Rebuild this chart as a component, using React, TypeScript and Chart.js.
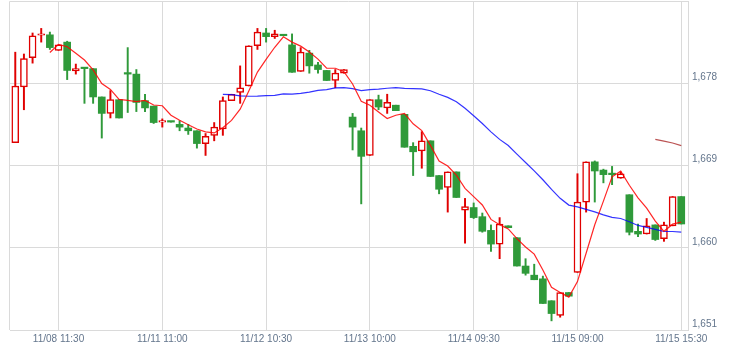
import React, { useEffect, useRef } from 'react';
import { Chart, registerables } from 'chart.js';

Chart.register(...registerables);

// 30-minute candles, 11/08 09:00 .. 11/15 15:30 (13 bars per day)
const xTickIndex = [5, 17, 29, 41, 53, 65, 77];
const xTickLabels = ['11/08 11:30', '11/11 11:00', '11/12 10:30', '11/13 10:00', '11/14 09:30', '11/15 09:00', '11/15 15:30'];
const yTicks = [1651, 1660, 1669, 1678];

const opens = [
  1671.5, 1677.6, 1680.8, 1683.25, 1683.3, 1681.6, 1682.5, 1679.35, 1679.65, 1679.6,
  1676.5, 1674.7, 1676.2, 1679.05, 1679.0, 1676.1, 1675.5, 1673.75, 1673.8, 1673.5,
  1673.1, 1672.8, 1671.4, 1672.3, 1673.0, 1676.1, 1677.0, 1677.7, 1682.1, 1683.5,
  1683.1, 1683.25, 1682.2, 1679.3, 1681.3, 1680.0, 1679.4, 1678.3, 1679.1, 1674.3,
  1672.8, 1670.1, 1676.2, 1675.3, 1675.6, 1674.6, 1671.1, 1670.6, 1671.7, 1667.9,
  1666.6, 1668.3, 1664.1, 1664.4, 1663.4, 1661.9, 1660.4, 1662.4, 1661.1, 1658.0,
  1657.0, 1656.6, 1654.2, 1652.6, 1655.1, 1657.3, 1665.0, 1669.4, 1668.5, 1668.1,
  1667.6, 1665.8, 1661.8, 1661.5, 1662.5, 1661.0, 1662.4, 1665.6,
];
const highs = [
  1681.4, 1681.2, 1683.5, 1684.0, 1683.6, 1682.2, 1682.6, 1680.1, 1679.65, 1679.6,
  1676.5, 1677.2, 1676.2, 1681.9, 1679.5, 1676.8, 1675.5, 1674.1, 1673.8, 1673.9,
  1673.5, 1672.8, 1672.5, 1673.7, 1676.5, 1676.8, 1679.9, 1682.1, 1684.0, 1684.0,
  1683.8, 1683.25, 1683.4, 1681.9, 1681.6, 1680.3, 1679.4, 1679.5, 1679.5, 1674.7,
  1673.1, 1676.2, 1676.7, 1676.8, 1675.6, 1674.6, 1671.5, 1672.7, 1671.7, 1667.9,
  1668.3, 1668.3, 1665.4, 1664.9, 1663.8, 1662.5, 1663.3, 1662.4, 1661.1, 1658.8,
  1658.2, 1656.9, 1654.2, 1655.1, 1655.1, 1668.1, 1669.4, 1669.5, 1668.6, 1668.9,
  1668.3, 1665.8, 1662.6, 1663.2, 1662.5, 1662.8, 1665.6, 1665.6,
];
const lows = [
  1671.5, 1675.1, 1680.2, 1682.5, 1681.7, 1681.6, 1678.4, 1679.0, 1675.8, 1675.8,
  1672.0, 1674.2, 1674.2, 1674.8, 1674.9, 1674.9, 1673.6, 1673.2, 1673.75, 1672.8,
  1672.4, 1670.9, 1670.1, 1671.7, 1672.3, 1676.1, 1675.8, 1677.7, 1681.7, 1682.5,
  1682.9, 1683.2, 1679.2, 1679.3, 1679.1, 1679.1, 1678.3, 1677.5, 1679.1, 1670.7,
  1664.8, 1670.1, 1675.1, 1674.7, 1675.0, 1671.0, 1667.9, 1668.7, 1667.8, 1665.9,
  1663.9, 1665.5, 1660.5, 1663.2, 1661.7, 1659.6, 1658.8, 1662.2, 1658.0, 1657.0,
  1656.5, 1653.9, 1652.0, 1652.4, 1654.7, 1657.3, 1663.9, 1665.0, 1667.1, 1666.9,
  1667.6, 1661.4, 1661.2, 1661.5, 1660.8, 1660.7, 1662.4, 1662.6,
];
const closes = [
  1677.7, 1680.7, 1683.2, 1683.3, 1681.9, 1682.2, 1679.4, 1679.6, 1679.6, 1676.5,
  1674.7, 1676.2, 1674.2, 1679.0, 1675.9, 1675.3, 1673.7, 1673.8, 1673.75, 1673.2,
  1672.8, 1671.4, 1672.2, 1673.2, 1676.1, 1676.8, 1677.5, 1682.1, 1683.6, 1683.1,
  1683.4, 1683.2, 1679.2, 1681.4, 1679.9, 1679.5, 1678.3, 1679.1, 1679.5, 1673.2,
  1670.0, 1676.2, 1675.4, 1675.9, 1675.0, 1671.0, 1670.5, 1671.7, 1667.8, 1666.4,
  1668.3, 1665.5, 1664.5, 1663.3, 1661.8, 1660.4, 1662.6, 1662.2, 1658.0, 1657.2,
  1656.5, 1653.9, 1652.8, 1655.1, 1654.7, 1665.0, 1669.4, 1668.4, 1668.0, 1668.0,
  1668.1, 1661.7, 1661.5, 1662.4, 1660.9, 1662.5, 1665.6, 1662.6,
];

// moving-average lines
const ma5 = [
  null, null, null, null, 1681.36, 1682.26, 1682.0, 1681.28, 1680.54, 1679.46,
  1677.96, 1677.32, 1676.24, 1676.12, 1676.0, 1676.12, 1675.62, 1675.54, 1674.5, 1673.96,
  1673.46, 1673.0, 1672.68, 1672.56, 1673.14, 1673.94, 1675.16, 1677.14, 1679.22, 1680.62,
  1681.94, 1683.08, 1682.5, 1682.06, 1681.42, 1680.64, 1679.66, 1679.64, 1679.26, 1677.92,
  1676.02, 1675.6, 1674.86, 1674.14, 1674.5, 1674.7, 1673.56, 1672.82, 1671.2, 1669.48,
  1668.94, 1667.94, 1666.5, 1665.6, 1664.68, 1663.1, 1662.52, 1662.06, 1661.0, 1660.08,
  1659.3, 1657.56, 1655.68, 1655.1, 1654.6, 1656.3, 1659.4, 1662.52, 1665.1, 1667.76,
  1668.38, 1666.84, 1665.46, 1664.34, 1662.92, 1661.8, 1662.58, 1662.8,
];
const ma25 = [
  null, null, null, null, null, null, null, null, null, null,
  null, null, null, null, null, null, null, null, null, null,
  null, null, null, null, 1676.78, 1676.75, 1676.62, 1676.58, 1676.59, 1676.64,
  1676.68, 1676.84, 1676.82, 1676.89, 1677.03, 1677.22, 1677.3, 1677.5, 1677.52, 1677.41,
  1677.2, 1677.3, 1677.36, 1677.45, 1677.52, 1677.45, 1677.41, 1677.39, 1677.18, 1676.79,
  1676.45, 1675.97, 1675.26, 1674.45, 1673.6, 1672.68, 1671.86, 1671.18, 1670.24, 1669.33,
  1668.41, 1667.44, 1666.38, 1665.41, 1664.67, 1664.47, 1664.2, 1663.92, 1663.6, 1663.32,
  1663.2, 1662.85, 1662.44, 1662.23, 1662.01, 1661.78, 1661.78, 1661.7,
];
const ma75 = [
  null, null, null, null, null, null, null, null, null, null,
  null, null, null, null, null, null, null, null, null, null,
  null, null, null, null, null, null, null, null, null, null,
  null, null, null, null, null, null, null, null, null, null,
  null, null, null, null, null, null, null, null, null, null,
  null, null, null, null, null, null, null, null, null, null,
  null, null, null, null, null, null, null, null, null, null,
  null, null, null, null, 1671.86, 1671.66, 1671.46, 1671.18,
];

const RED = '#e00000';
const GREEN = '#2f9a3a';
const GRID = '#dadada';
const TEXT = '#63758c';
const FONT = { family: "'Liberation Sans', Arial, sans-serif", size: 10 };

const framePlugin = {
  id: 'frame',
  beforeDatasetsDraw(chart: any) {
    const { ctx, chartArea } = chart;
    ctx.save();
    ctx.strokeStyle = GRID;
    ctx.lineWidth = 1;
    ctx.beginPath();
    ctx.moveTo(chartArea.left - 0.5, chartArea.bottom);
    ctx.lineTo(chartArea.left - 0.5, chartArea.top + 0.5);
    ctx.lineTo(chartArea.right, chartArea.top + 0.5);
    ctx.stroke();
    ctx.restore();
  },
};

export default function App() {
  const ref = useRef<HTMLCanvasElement>(null);

  useEffect(() => {
    if (!ref.current) return;
    const up = opens.map((o, i) => closes[i] >= o);
    const color = up.map((u) => (u ? RED : GREEN));

    const chart = new Chart(ref.current, {
      type: 'bar',
      data: {
        datasets: [
          {
            type: 'line',
            label: 'MA5',
            data: ma5.map((v, i) => ({ x: i, y: v })),
            borderColor: 'rgba(255,0,0,0.85)',
            borderWidth: 1.2,
            pointRadius: 0,
            tension: 0,
            order: 0,
          } as any,
          {
            type: 'line',
            label: 'MA25',
            data: ma25.map((v, i) => ({ x: i, y: v })),
            borderColor: 'rgba(0,0,255,0.8)',
            borderWidth: 1.2,
            pointRadius: 0,
            tension: 0,
            order: 0,
          } as any,
          {
            type: 'line',
            label: 'MA75',
            data: ma75.map((v, i) => ({ x: i, y: v })),
            borderColor: 'rgba(170,40,40,0.8)',
            borderWidth: 1.2,
            pointRadius: 0,
            tension: 0,
            order: 0,
          } as any,
          {
            type: 'bar',
            label: 'body',
            data: opens.map((o, i) => ({ x: i, y: [o, closes[i]] })),
            backgroundColor: up.map((u) => (u ? '#ffffff' : GREEN)),
            borderColor: color,
            borderWidth: up.map((u) => (u ? 1.5 : 0)),
            borderSkipped: false,
            barThickness: 7,
            minBarLength: 1.5,
            grouped: false,
            order: 1,
          } as any,
          {
            type: 'bar',
            label: 'wick',
            data: lows.map((l, i) => ({ x: i, y: [l, highs[i]] })),
            backgroundColor: color,
            borderWidth: 0,
            barThickness: 1.3,
            grouped: false,
            order: 2,
          } as any,
        ],
      },
      options: {
        responsive: false,
        animation: false,
        events: [],
        layout: { padding: { left: 10, top: 1, right: 0, bottom: 0 } },
        plugins: { legend: { display: false }, tooltip: { enabled: false } },
        scales: {
          x: {
            type: 'linear',
            min: -0.61,
            max: 77.78,
            offset: false,
            grid: { color: GRID, drawTicks: false, offset: false },
            border: { color: GRID },
            ticks: {
              padding: 3,
              font: FONT,
              color: TEXT,
              autoSkip: false,
              maxRotation: 0,
              callback: (v: any) => {
                const k = xTickIndex.indexOf(Number(v));
                return k >= 0 ? xTickLabels[k] : '';
              },
            },
            afterBuildTicks: (s: any) => {
              s.ticks = xTickIndex.map((v) => ({ value: v }));
            },
            afterFit: (s: any) => {
              s.height = 29;
              s.paddingLeft = 0;
              s.paddingRight = 0;
            },
          },
          y: {
            type: 'linear',
            position: 'right',
            min: 1651,
            max: 1687,
            grid: { color: GRID, drawTicks: false },
            border: { color: GRID },
            ticks: {
              padding: 4,
              labelOffset: -6,
              font: FONT,
              color: TEXT,
              callback: (v: any) => Number(v).toLocaleString('en-US'),
            },
            afterBuildTicks: (s: any) => {
              s.ticks = yTicks.map((v) => ({ value: v }));
            },
            afterFit: (s: any) => {
              s.width = 47;
              s.paddingTop = 0;
              s.paddingBottom = 0;
            },
          },
        },
      } as any,
      plugins: [framePlugin],
    });
    return () => chart.destroy();
  }, []);

  return (
    <div style={{ position: 'fixed', left: 0, top: 0, width: 735, height: 359, background: '#ffffff' }}>
      <canvas ref={ref} width={735} height={359} style={{ display: 'block', width: 735, height: 359 }} />
    </div>
  );
}
